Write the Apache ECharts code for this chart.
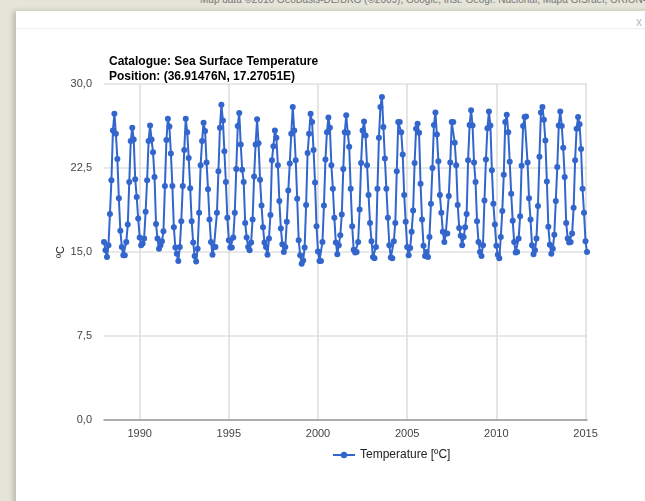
<!DOCTYPE html>
<html>
<head>
<meta charset="utf-8">
<script src="https://cdn.jsdelivr.net/npm/echarts@6/dist/echarts.min.js"></script>
<style>
  html, body { margin: 0; padding: 0; width: 645px; height: 501px; overflow: hidden; background: #e4e4d8; font-family: "Liberation Sans", Arial, sans-serif; }
  #mapnote { position: absolute; left: 200px; top: -6px; font-size: 10px; color: #777; white-space: nowrap; }
  #panel { position: absolute; left: 16px; top: 11px; width: 640px; height: 500px; background: #fff; box-shadow: -3px 0 5px rgba(0,0,0,0.18); }
  #sep { position: absolute; left: 16px; top: 28px; width: 629px; height: 1px; background: #eee; }
  #close { position: absolute; left: 636px; top: 15px; font-size: 12px; color: #bbb; }
  #chart { position: absolute; left: 0; top: 0; width: 645px; height: 501px; }
</style>
</head>
<body>
<div id="mapnote">Map data ©2016 GeoBasis-DE/BKG (©2009), Google, Inst. Geogr. Nacional, Mapa GISrael, ORION-ME | 50 km</div>
<div id="panel"></div>
<div id="sep"></div>
<div id="close">x</div>
<div id="chart"></div>
<script>
// monthly sea surface temperature, Jan..Dec
const t1988 = [15.9, 15.15, 14.55, 15.6, 18.4, 21.4, 25.85, 27.35, 25.55, 23.3, 19.8, 16.9]
const t1989 = [15.45, 14.7, 14.7, 15.9, 17.45, 21.25, 24.9, 26.1, 25.05, 21.5, 19.9, 18.0]
const t1990 = [16.3, 15.6, 15.75, 16.2, 18.6, 21.4, 24.9, 26.3, 25.05, 23.9, 21.7, 17.5]
const t1991 = [16.2, 15.3, 15.6, 15.95, 16.85, 20.9, 25.0, 26.9, 26.2, 23.8, 20.9, 17.2]
const t1992 = [15.4, 14.85, 14.2, 15.45, 17.75, 20.9, 24.1, 26.9, 25.7, 23.4, 20.7, 17.75]
const t1993 = [15.85, 14.65, 14.15, 15.3, 18.5, 22.75, 24.9, 26.55, 25.8, 23.0, 20.6, 17.9]
const t1994 = [15.9, 14.75, 15.45, 15.45, 18.5, 22.2, 26.1, 28.15, 26.75, 24.0, 21.25, 18.05]
const t1995 = [16.05, 15.4, 15.4, 16.3, 18.5, 22.4, 26.25, 27.4, 24.6, 22.35, 21.25, 17.6]
const t1996 = [16.3, 15.45, 15.15, 15.85, 17.9, 21.75, 24.6, 26.85, 24.7, 21.45, 19.15, 17.2]
const t1997 = [15.85, 15.45, 14.75, 16.2, 18.3, 23.2, 24.45, 25.85, 25.2, 22.75, 19.55, 17.1]
const t1998 = [15.7, 15.0, 15.45, 17.7, 20.5, 22.9, 25.55, 27.95, 25.85, 23.2, 19.75, 16.05]
const t1999 = [14.7, 13.95, 14.25, 15.4, 19.2, 23.85, 25.55, 27.35, 26.6, 24.1, 21.2, 17.3]
const t2000 = [15.05, 14.2, 14.2, 15.9, 19.15, 23.25, 25.7, 27.0, 26.1, 22.75, 20.65, 18.05]
const t2001 = [15.85, 14.8, 15.6, 16.5, 18.35, 22.4, 25.7, 27.2, 25.65, 24.4, 20.65, 17.3]
const t2002 = [15.2, 14.95, 15.0, 15.9, 18.8, 22.95, 25.85, 26.65, 25.4, 22.75, 20.1, 17.6]
const t2003 = [15.95, 14.55, 14.45, 15.45, 20.65, 25.2, 27.95, 28.85, 26.15, 23.35, 20.65, 18.05]
const t2004 = [15.6, 14.5, 14.45, 15.95, 17.6, 22.2, 26.6, 26.6, 25.7, 23.7, 20.1, 17.7]
const t2005 = [15.45, 14.7, 15.35, 16.8, 18.7, 22.95, 26.0, 26.45, 25.65, 21.1, 17.9, 15.55]
const t2006 = [14.65, 15.0, 14.55, 16.35, 19.3, 22.5, 26.35, 27.45, 25.5, 23.1, 20.1, 18.5]
const t2007 = [16.8, 15.9, 16.65, 16.65, 20.0, 23.0, 26.6, 26.6, 24.75, 22.75, 19.2, 17.15]
const t2008 = [16.45, 15.6, 16.35, 17.2, 18.4, 23.2, 26.35, 27.65, 26.3, 23.0, 21.25, 17.75]
const t2009 = [15.9, 15.0, 14.65, 15.6, 19.6, 23.25, 26.05, 27.55, 26.3, 22.3, 19.3, 17.45]
const t2010 = [15.55, 14.75, 14.45, 16.35, 18.65, 21.9, 26.6, 27.25, 25.7, 23.05, 20.2, 17.8]
const t2011 = [15.9, 14.95, 15.0, 16.2, 18.2, 22.7, 26.25, 27.05, 27.1, 23.0, 19.8, 17.9]
const t2012 = [15.6, 14.8, 15.15, 16.2, 19.1, 23.5, 27.45, 27.95, 26.8, 24.95, 21.3, 17.25]
const t2013 = [15.65, 14.85, 15.3, 16.55, 19.55, 22.6, 26.3, 27.55, 26.25, 24.3, 21.7, 17.6]
const t2014 = [16.2, 15.85, 15.9, 16.65, 18.95, 23.2, 26.0, 27.05, 26.4, 24.2, 20.65, 18.5]
const t2015 = [15.95, 15.0]

const years = [1988, 1989, 1990, 1991, 1992, 1993, 1994, 1995, 1996, 1997, 1998, 1999, 2000, 2001,
  2002, 2003, 2004, 2005, 2006, 2007, 2008, 2009, 2010, 2011, 2012, 2013, 2014, 2015]
const yearly = [t1988, t1989, t1990, t1991, t1992, t1993, t1994, t1995, t1996, t1997, t1998, t1999, t2000, t2001,
  t2002, t2003, t2004, t2005, t2006, t2007, t2008, t2009, t2010, t2011, t2012, t2013, t2014, t2015]
const xTicks = [1990, 1995, 2000, 2005, 2010, 2015]

const points = []
years.forEach((yr, i) => {
  yearly[i].forEach((v, m) => points.push([yr + m / 12, v]))
})

const font = '"Liberation Sans", Arial, sans-serif'

const initChart = () => {
  const myChart = echarts.init(document.getElementById('chart'), null, { renderer: 'canvas' })
  myChart.setOption({
    backgroundColor: 'transparent',
    animation: false,
    title: {
      text: 'Catalogue: Sea Surface Temperature\nPosition: (36.91476N, 17.27051E)',
      left: 104, top: 49,
      textStyle: { fontFamily: font, fontSize: 12, fontWeight: 'bold', color: '#000', lineHeight: 15 }
    },
    legend: {
      left: 327, top: 444,
      itemWidth: 22, itemHeight: 8, itemGap: 10,
      textStyle: { fontFamily: font, fontSize: 12, color: '#222' },
      data: ['Temperature [ºC]']
    },
    grid: { left: 104, right: 58, top: 84, bottom: 81, containLabel: false },
    xAxis: {
      type: 'value',
      min: 1988, max: 'dataMax',
      axisLine: { show: true, lineStyle: { color: '#999', width: 1.5 } },
      axisTick: { show: false, customValues: xTicks },
      splitLine: { show: true, lineStyle: { color: '#ddd', width: 1.5 } },
      axisLabel: {
        customValues: xTicks, color: '#444', fontFamily: font, fontSize: 11, margin: 8,
        formatter: v => String(Math.round(v))
      }
    },
    yAxis: {
      type: 'value',
      min: 0, max: 30, interval: 7.5,
      name: 'ºC', nameLocation: 'middle', nameGap: 38, nameRotate: 90, nameMoveOverlap: false,
      nameTextStyle: { color: '#222', fontFamily: font, fontSize: 11 },
      axisLine: { show: false }, axisTick: { show: false },
      splitLine: { lineStyle: { color: '#e2e2e2', width: 1.5 } },
      axisLabel: {
        color: '#444', fontFamily: font, fontSize: 11, margin: 12,
        formatter: v => v.toFixed(1).replace('.', ',')
      }
    },
    series: [{
      name: 'Temperature [ºC]',
      type: 'line',
      data: points,
      symbol: 'circle', symbolSize: 6, showAllSymbol: true,
      itemStyle: { color: '#3366cc' },
      lineStyle: { color: '#3366cc', width: 2 }
    }]
  })
}

window.addEventListener('load', () => {
  initChart()
})
</script>
</body>
</html>
